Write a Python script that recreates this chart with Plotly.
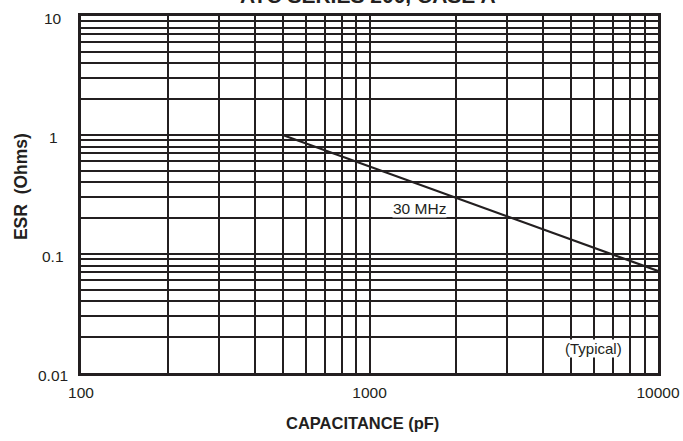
import math
import plotly.graph_objects as go

# ---- data ----
capacitance_pf = [500, 10000]
esr_ohms = [1.0, 0.072]
series_label = "30 MHz"
note_label = "(Typical)"
title_text = "ATC SERIES 200, CASE A"
x_title = "CAPACITANCE (pF)"
y_title = "ESR\u00a0 (Ohms)"
x_decades = [100, 1000, 10000]
x_tick_labels = ["100", "1000", "10000"]
y_decades = [0.01, 0.1, 1, 10]
y_tick_labels = ["0.01", "0.1", "1", "10"]

FONT = "Liberation Sans, Arial, Helvetica, sans-serif"
INK = "#231f20"

def minor_vals(lo_decade, hi_decade):
    vals = []
    d = lo_decade
    while d < hi_decade * 0.999:
        for k in range(1, 10):
            vals.append(k * d)
        d *= 10
    vals.append(hi_decade)
    return vals

xvals = minor_vals(x_decades[0], x_decades[-1])
xtext = [x_tick_labels[x_decades.index(v)] if v in x_decades else "" for v in xvals]
yvals = minor_vals(y_decades[0], y_decades[-1])

fig = go.Figure()
fig.add_trace(go.Scatter(
    x=capacitance_pf, y=esr_ohms, mode="lines",
    line=dict(color=INK, width=2.2), showlegend=False, hoverinfo="skip",
))

annotations = [
    dict(x=3.172, y=-0.616, xref="x", yref="y", text=series_label, showarrow=False,
         font=dict(family=FONT, size=15.5, color=INK), xanchor="center", yanchor="middle",
         bgcolor="white", borderpad=0),
    dict(x=3.775, y=-1.792, xref="x", yref="y", text=note_label, showarrow=False,
         font=dict(family=FONT, size=15, color=INK), xanchor="center", yanchor="middle",
         bgcolor="white", borderpad=0),
    dict(x=0.497, y=1.0196, xref="paper", yref="paper", text="<b>" + title_text + "</b>",
         showarrow=False, font=dict(family=FONT, size=21, color=INK),
         xanchor="center", yanchor="bottom"),
    dict(x=0.488, y=-0.14, xref="paper", yref="paper", text="<b>" + x_title + "</b>",
         showarrow=False, font=dict(family=FONT, size=16.5, color=INK),
         xanchor="center", yanchor="middle"),
    dict(x=-0.105, y=0.522, xref="paper", yref="paper", text="<b>" + y_title + "</b>",
         showarrow=False, font=dict(family=FONT, size=17.5, color=INK), textangle=-90,
         xanchor="center", yanchor="middle"),
]
for v, t in zip(y_decades, y_tick_labels):
    annotations.append(dict(
        x=-0.048, y=math.log10(v), xref="paper", yref="y", text=t, showarrow=False,
        font=dict(family=FONT, size=15.5, color=INK), xanchor="center", yanchor="middle",
        yshift=-2,
    ))

fig.update_layout(
    width=683, height=441,
    margin=dict(l=81, r=25, t=16, b=68, autoexpand=False),
    paper_bgcolor="white", plot_bgcolor="white",
    annotations=annotations,
    xaxis=dict(
        type="log", range=[2, 4], tickmode="array", tickvals=xvals, ticktext=xtext,
        showgrid=True, gridcolor=INK, gridwidth=1.6,
        showline=True, linecolor=INK, linewidth=2.5, mirror=True,
        ticks="", ticklabelstandoff=4, ticklabeloverflow="allow", automargin=False,
        tickfont=dict(family=FONT, size=15.5, color=INK),
        zeroline=False, fixedrange=True,
    ),
    yaxis=dict(
        type="log", range=[-2, 1], tickmode="array", tickvals=yvals,
        showticklabels=False, automargin=False,
        showgrid=True, gridcolor=INK, gridwidth=1.6,
        showline=True, linecolor=INK, linewidth=2.5, mirror=True,
        ticks="",
        zeroline=False, fixedrange=True,
    ),
)

fig.write_html(
    "out.html",
    config={"displayModeBar": False},
    post_script="document.body.style.margin='0';document.body.style.overflow='hidden';",
)
